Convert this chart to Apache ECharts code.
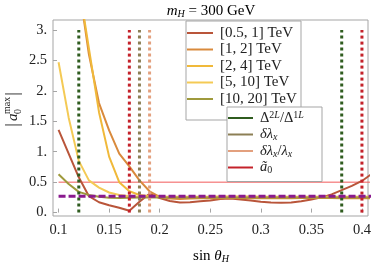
<!DOCTYPE html>
<html><head><meta charset="utf-8">
<script src="https://cdn.jsdelivr.net/npm/echarts@6/dist/echarts.min.js"></script>
<style>html,body{margin:0;padding:0;background:#fff}#c{width:374px;height:269px}</style>
</head><body><div id="c"></div>
<script>
const FONT = 'Liberation Serif';
const xTicks = [0.1, 0.15, 0.2, 0.25, 0.3, 0.35, 0.4];
const xTickLabels = ['0.1', '0.15', '0.2', '0.25', '0.3', '0.35', '0.4'];
const yTicks = [0, 0.5, 1, 1.5, 2, 2.5, 3];
const yTickLabels = ['0.', '0.5', '1.', '1.5', '2.', '2.5', '3.'];

const seriesNames = ['[0.5, 1] TeV', '[1, 2] TeV', '[2, 4] TeV', '[5, 10] TeV', '[10, 20] TeV'];
const seriesColors = ['#b9553a', '#d98a3c', '#f0b93a', '#f4ca55', '#9f9a3c'];

const xFull = [0.10,0.11,0.12,0.13,0.14,0.15,0.16,0.17,0.18,0.19,0.20,0.21,0.22,0.23,0.24,0.25,0.26,0.27,0.28,0.29,0.30,0.31,0.32,0.33,0.34,0.35,0.36,0.37,0.38,0.39,0.40,0.41];
const xFrom012 = [0.12,0.13,0.14,0.15,0.16,0.17,0.18,0.19,0.20,0.21,0.22,0.23,0.24,0.25,0.26,0.27,0.28,0.29,0.30,0.31,0.32,0.33,0.34,0.35,0.36,0.37,0.38,0.39,0.40,0.41];

const y05to1 = [1.36,0.97,0.58,0.27,0.17,0.12,0.08,0.03,0.18,0.31,0.24,0.19,0.165,0.17,0.185,0.20,0.225,0.23,0.215,0.20,0.18,0.165,0.16,0.165,0.185,0.215,0.25,0.30,0.37,0.44,0.52,0.64];
const y1to2 = [3.75,2.6,1.8,1.35,0.97,0.76,0.53,0.35,0.26,0.23,0.225,0.23,0.235,0.235,0.237,0.238,0.238,0.237,0.236,0.236,0.236,0.237,0.238,0.238,0.238,0.238,0.237,0.237,0.236,0.236];
const y2to4 = [3.75,2.7,1.65,0.92,0.50,0.35,0.29,0.27,0.265,0.262,0.262,0.262,0.262,0.262,0.263,0.263,0.263,0.263,0.262,0.262,0.262,0.262,0.262,0.262,0.262,0.262,0.262,0.262,0.262,0.262];
const y5to10 = [2.47,1.56,0.85,0.53,0.41,0.33,0.29,0.27,0.26,0.258,0.257,0.257,0.257,0.257,0.258,0.258,0.258,0.258,0.258,0.258,0.258,0.258,0.258,0.258,0.258,0.258,0.258,0.258,0.258,0.258,0.258,0.258];
const y10to20 = [0.63,0.47,0.34,0.29,0.26,0.245,0.24,0.245,0.248,0.25,0.25,0.25,0.25,0.25,0.25,0.25,0.25,0.25,0.25,0.25,0.25,0.25,0.25,0.25,0.25,0.25,0.25,0.25,0.25,0.25,0.25,0.25];

const vNames = ['D2L', 'dlx', 'dlxr', 'a0'];
const vColors = ['#2f5c1f', '#8c7f55', '#e3a07e', '#c4222a'];
const vXs = [[0.12, 0.38], [0.18], [0.19], [0.17, 0.40]];
const vYRange = [0, 3];

const redLineY = 0.5;
const purpleLineY = 0.268;
const hLineX = [0.1, 0.41];

const pair = (xs, ys) => xs.map((x, i) => [x, ys[i]]);
const curveY = [y05to1, y1to2, y2to4, y5to10, y10to20];
const curveX = [xFull, xFrom012, xFrom012, xFull, xFull];

const richBase = {
  n: {fontFamily: FONT, fontSize: 14.5, lineHeight: 16, color: '#222'},
  i: {fontFamily: FONT, fontSize: 14.5, lineHeight: 16, fontStyle: 'italic', color: '#222'},
  sp: {fontFamily: FONT, fontSize: 10, lineHeight: 10, verticalAlign: 'top', color: '#222'},
  spi: {fontFamily: FONT, fontSize: 10, lineHeight: 10, verticalAlign: 'top', fontStyle: 'italic', color: '#222'},
  sb: {fontFamily: FONT, fontSize: 10, lineHeight: 10, verticalAlign: 'bottom', color: '#222'},
  sbi: {fontFamily: FONT, fontSize: 10, lineHeight: 10, verticalAlign: 'bottom', fontStyle: 'italic', color: '#222'},
  tn: {fontFamily: FONT, fontSize: 15, lineHeight: 17, color: '#222'},
  ti: {fontFamily: FONT, fontSize: 15, lineHeight: 17, fontStyle: 'italic', color: '#222'}
};
const vLabels = {
  D2L: '{n|Δ}{sp|2}{spi|L}{n|/Δ}{sp|1}{spi|L}',
  dlx: '{i|δλ}{sbi|x}',
  dlxr: '{i|δλ}{sbi|x}{n|/}{i|λ}{sbi|x}',
  a0: '{i|ã}{sb|0}'
};

const series = [];
series.push({type: 'line', name: 'red05', data: hLineX.map(x => [x, redLineY]), symbol: 'none', lineStyle: {color: '#f25a5a', width: 1}, z: 1, silent: true});
curveY.forEach((ys, k) => {
  series.push({type: 'line', name: seriesNames[k], data: pair(curveX[k], ys), symbol: 'none', color: seriesColors[k], lineStyle: {color: seriesColors[k], width: 2}, z: 2});
});
vNames.forEach((nm, k) => {
  vXs[k].forEach(x => {
    series.push({type: 'line', name: nm, data: vYRange.map(y => [x, y]), symbol: 'none', color: vColors[k], lineStyle: {color: vColors[k], width: 3, type: [3, 3], cap: 'butt'}, z: 3});
  });
});
series.push({type: 'line', name: 'purple', data: hLineX.map(x => [x, purpleLineY]), symbol: 'none', lineStyle: {color: '#8a1a8e', width: 3, type: [7, 3], cap: 'butt'}, z: 4, silent: true});

const chart = echarts.init(document.getElementById('c'), null, {renderer: 'canvas'});
chart.setOption({
  animation: false,
  backgroundColor: '#fff',
  grid: {left: 53, top: 20, width: 317, height: 196, show: true, borderColor: '#a5a5a5', borderWidth: 1, backgroundColor: 'transparent'},
  xAxis: {
    type: 'value', min: 0.0945, max: 0.406,
    axisLine: {show: false}, splitLine: {show: false},
    axisTick: {show: true, inside: true, length: 4, lineStyle: {color: '#a5a5a5'}, customValues: xTicks},
    axisLabel: {customValues: xTicks, formatter: v => xTickLabels[xTicks.findIndex(t => Math.abs(t - v) < 1e-9)], fontFamily: FONT, fontSize: 14.5, color: '#222', margin: 7}
  },
  yAxis: {
    type: 'value', min: -0.056, max: 3.165,
    axisLine: {show: false}, splitLine: {show: false},
    axisTick: {show: true, inside: true, length: 4, lineStyle: {color: '#a5a5a5'}, customValues: yTicks},
    axisLabel: {customValues: yTicks, formatter: v => yTickLabels[yTicks.findIndex(t => Math.abs(t - v) < 1e-9)], fontFamily: FONT, fontSize: 14.5, color: '#222', margin: 6}
  },
  legend: [
    {
      data: seriesNames, orient: 'vertical', left: 186, top: 21, z: 5,
      padding: [4, 2, 13, 1], itemGap: 0.5, itemWidth: 26, itemHeight: 2, icon: 'rect',
      backgroundColor: '#fff', borderColor: '#a5a5a5', borderWidth: 1, borderRadius: 0,
      selectedMode: false,
      textStyle: {fontFamily: FONT, fontSize: 15, lineHeight: 16, color: '#222', width: 79, padding: [0, 0, 0, 2]}
    },
    {
      data: vNames, orient: 'vertical', left: 227, top: 107, z: 6,
      padding: [3, 2, 6, 1], itemGap: 0.5, itemWidth: 25, itemHeight: 2, icon: 'rect',
      backgroundColor: '#fff', borderColor: '#a5a5a5', borderWidth: 1, borderRadius: 0,
      selectedMode: false,
      formatter: nm => vLabels[nm],
      textStyle: {fontFamily: FONT, fontSize: 14.5, lineHeight: 16, color: '#222', width: 60, padding: [0, 0, 0, 2], rich: richBase}
    }
  ],
  graphic: [
    {type: 'text', x: 211, y: 11, z: 10, style: {text: '{ti|m}{sbi|H}{tn| = 300 GeV}', rich: richBase, align: 'center', verticalAlign: 'middle', textAlign: 'center', textVerticalAlign: 'middle'}},
    {type: 'text', x: 211, y: 256, z: 10, style: {text: '{tn|sin }{ti|θ}{sbi|H}', rich: richBase, align: 'center', verticalAlign: 'middle', textAlign: 'center', textVerticalAlign: 'middle'}},
    {type: 'group', x: 13, y: 108, rotation: Math.PI / 2, z: 10, children: [
      {type: 'text', x: -17, y: 0, style: {text: '|', fontFamily: FONT, fontSize: 18, fill: '#222', align: 'center', verticalAlign: 'middle'}},
      {type: 'text', x: -13, y: 0, style: {text: 'a', fontFamily: FONT, fontSize: 15, fontStyle: 'italic', fill: '#222', align: 'left', verticalAlign: 'middle'}},
      {type: 'text', x: -6, y: 5, style: {text: '0', fontFamily: FONT, fontSize: 10, fill: '#222', align: 'left', verticalAlign: 'middle'}},
      {type: 'text', x: -6, y: -6, style: {text: 'max', fontFamily: FONT, fontSize: 10, fill: '#222', align: 'left', verticalAlign: 'middle'}},
      {type: 'text', x: 14, y: 0, style: {text: '|', fontFamily: FONT, fontSize: 18, fill: '#222', align: 'center', verticalAlign: 'middle'}}
    ]}
  ],
  series: series
});
</script>
</body></html>
